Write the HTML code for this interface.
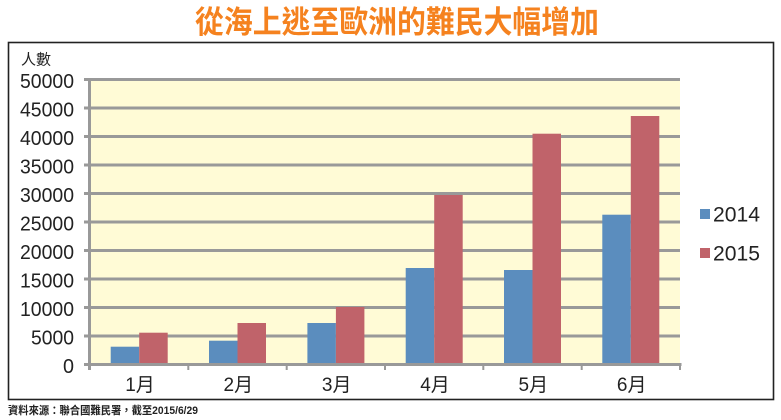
<!DOCTYPE html>
<html>
<head>
<meta charset="utf-8">
<style>
html,body{margin:0;padding:0;background:#fff;}
body{width:781px;height:420px;overflow:hidden;}
svg{display:block;}
text{font-family:"Liberation Sans","Noto Sans CJK TC",sans-serif;}
</style>
</head>
<body>
<svg width="781" height="420" viewBox="0 0 781 420" xmlns="http://www.w3.org/2000/svg">
  <!-- Title -->
  <text x="397" y="33" text-anchor="middle" font-size="31" font-weight="bold" fill="#F5821F" textLength="404" lengthAdjust="spacingAndGlyphs" font-family="Liberation Sans, Noto Sans CJK TC, sans-serif">從海上逃至歐洲的難民大幅增加</text>

  <!-- Frame -->
  <rect x="8.5" y="42.5" width="765" height="357" fill="#fff" stroke="#222" stroke-width="1.6"/>

  <!-- Plot bg -->
  <rect x="90" y="79" width="590" height="286" fill="#FFFBD6"/>

  <!-- Gridlines -->
  <g stroke="#999" stroke-width="3">
    <line x1="84" y1="79.5" x2="680" y2="79.5"/>
    <line x1="84" y1="108" x2="680" y2="108"/>
    <line x1="84" y1="136.5" x2="680" y2="136.5"/>
    <line x1="84" y1="165" x2="680" y2="165"/>
    <line x1="84" y1="193.5" x2="680" y2="193.5"/>
    <line x1="84" y1="222" x2="680" y2="222"/>
    <line x1="84" y1="250.5" x2="680" y2="250.5"/>
    <line x1="84" y1="279" x2="680" y2="279"/>
    <line x1="84" y1="307.5" x2="680" y2="307.5"/>
    <line x1="84" y1="336" x2="680" y2="336"/>
  </g>

  <!-- Bars -->
  <g>
    <!-- blue 2014 -->
    <rect x="110.7" y="346.7" width="28.5" height="17.8" fill="#5B8DBE"/>
    <rect x="209.0" y="340.7" width="28.5" height="23.8" fill="#5B8DBE"/>
    <rect x="307.4" y="323.0" width="28.5" height="41.5" fill="#5B8DBE"/>
    <rect x="405.7" y="268.0" width="28.5" height="96.5" fill="#5B8DBE"/>
    <rect x="504.0" y="270.0" width="28.5" height="94.5" fill="#5B8DBE"/>
    <rect x="602.3" y="214.7" width="28.5" height="149.8" fill="#5B8DBE"/>
    <!-- red 2015 -->
    <rect x="139.2" y="332.7" width="28.5" height="31.8" fill="#C0636A"/>
    <rect x="237.5" y="323.0" width="28.5" height="41.5" fill="#C0636A"/>
    <rect x="335.9" y="307.0" width="28.5" height="57.5" fill="#C0636A"/>
    <rect x="434.2" y="195.0" width="28.5" height="169.5" fill="#C0636A"/>
    <rect x="532.5" y="133.7" width="28.5" height="230.8" fill="#C0636A"/>
    <rect x="630.8" y="116.0" width="28.5" height="248.5" fill="#C0636A"/>
  </g>

  <!-- Axes -->
  <g stroke="#999" stroke-width="3">
    <line x1="84" y1="364.5" x2="681.5" y2="364.5"/>
    <line x1="89.5" y1="79" x2="89.5" y2="370"/>
  </g>
  <g stroke="#999" stroke-width="2">
    <line x1="188.3" y1="364" x2="188.3" y2="370"/>
    <line x1="286.7" y1="364" x2="286.7" y2="370"/>
    <line x1="385" y1="364" x2="385" y2="370"/>
    <line x1="483.3" y1="364" x2="483.3" y2="370"/>
    <line x1="581.7" y1="364" x2="581.7" y2="370"/>
    <line x1="680" y1="364" x2="680" y2="370"/>
  </g>

  <!-- Y unit -->
  <text x="21" y="64.5" font-size="15" fill="#222">人數</text>

  <!-- Y labels -->
  <g font-size="20" fill="#222" text-anchor="end">
    <text x="74" y="88" textLength="54" lengthAdjust="spacingAndGlyphs">50000</text>
    <text x="74" y="116.5" textLength="54" lengthAdjust="spacingAndGlyphs">45000</text>
    <text x="74" y="145" textLength="54" lengthAdjust="spacingAndGlyphs">40000</text>
    <text x="74" y="173.5" textLength="54" lengthAdjust="spacingAndGlyphs">35000</text>
    <text x="74" y="202" textLength="54" lengthAdjust="spacingAndGlyphs">30000</text>
    <text x="74" y="230.5" textLength="54" lengthAdjust="spacingAndGlyphs">25000</text>
    <text x="74" y="259" textLength="54" lengthAdjust="spacingAndGlyphs">20000</text>
    <text x="74" y="287.5" textLength="54" lengthAdjust="spacingAndGlyphs">15000</text>
    <text x="74" y="316" textLength="54" lengthAdjust="spacingAndGlyphs">10000</text>
    <text x="74" y="344.5" textLength="43" lengthAdjust="spacingAndGlyphs">5000</text>
    <text x="74" y="373" textLength="11" lengthAdjust="spacingAndGlyphs">0</text>
  </g>

  <!-- X labels -->
  <g font-size="19" fill="#222" text-anchor="middle">
    <text x="140" y="391">1月</text>
    <text x="238.3" y="391">2月</text>
    <text x="336.7" y="391">3月</text>
    <text x="435" y="391">4月</text>
    <text x="533.3" y="391">5月</text>
    <text x="631.7" y="391">6月</text>
  </g>

  <!-- Legend -->
  <rect x="700" y="209" width="10" height="10" fill="#5B8DBE"/>
  <text x="713" y="221.5" font-size="21" fill="#222" textLength="47" lengthAdjust="spacingAndGlyphs">2014</text>
  <rect x="700" y="248" width="10" height="10" fill="#C0636A"/>
  <text x="713" y="260.5" font-size="21" fill="#222" textLength="47" lengthAdjust="spacingAndGlyphs">2015</text>

  <!-- Source -->
  <text x="8" y="414" font-size="11" font-weight="bold" fill="#222" textLength="190" lengthAdjust="spacingAndGlyphs">資料來源：聯合國難民署，截至2015/6/29</text>
</svg>
</body>
</html>
